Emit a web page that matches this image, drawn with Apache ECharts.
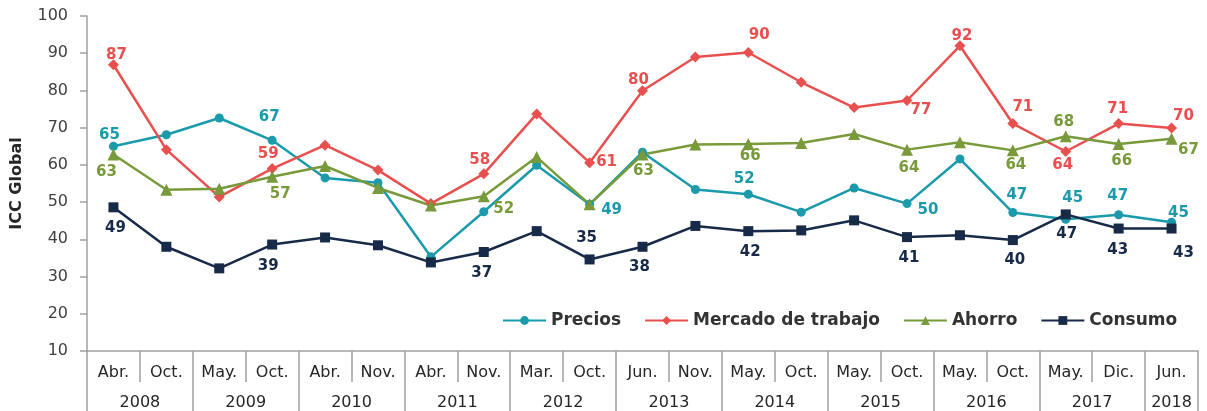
<!DOCTYPE html>
<html>
<head>
<meta charset="utf-8">
<script src="https://cdn.jsdelivr.net/npm/echarts@6/dist/echarts.min.js"></script>
<style>
  html, body { margin: 0; padding: 0; background: #fff; }
  #chart { width: 1207px; height: 411px; }
</style>
</head>
<body>
<div id="chart"></div>
<script>
// categorias
const months = ["Abr.", "Oct.", "May.", "Oct.", "Abr.", "Nov.", "Abr.", "Nov.", "Mar.", "Oct.", "Jun.",
  "Nov.", "May.", "Oct.", "May.", "Oct.", "May.", "Oct.", "May.", "Dic.", "Jun."];
const years = ["2008", "2009", "2010", "2011", "2012", "2013", "2014", "2015", "2016", "2017", "2018"];
const yearSpans = [2, 2, 2, 2, 2, 2, 2, 2, 2, 2, 1];
const yTicks = [10, 20, 30, 40, 50, 60, 70, 80, 90, 100];

// series
const precios = [65.0, 68.1, 72.6, 66.6, 56.5, 55.2, 35.3, 47.4, 59.9, 49.4, 63.4,
  53.4, 52.1, 47.3, 53.8, 49.6, 61.6, 47.2, 45.4, 46.6, 44.6];
const mercado = [86.9, 64.1, 51.4, 59.0, 65.3, 58.6, 49.6, 57.6, 73.7, 60.6, 79.9,
  89.0, 90.2, 82.2, 75.4, 77.3, 92.0, 71.1, 63.6, 71.1, 69.9];
const ahorro = [62.8, 53.3, 53.6, 56.8, 59.7, 53.8, 49.1, 51.6, 62.1, 49.4, 62.8,
  65.5, 65.6, 65.9, 68.3, 64.1, 66.1, 63.9, 67.7, 65.6, 67.0];
const consumo = [48.6, 38.0, 32.2, 38.6, 40.5, 38.4, 33.8, 36.6, 42.2, 34.6, 38.0,
  43.6, 42.2, 42.4, 45.1, 40.6, 41.1, 39.8, 46.7, 42.9, 42.9];

// etiquetas visibles: indice -> desplazamiento [dx, dy] respecto al punto
const preciosLbl = { 0: [-4, -11], 3: [-3, -23], 9: [22, 6], 12: [-4, -15], 15: [21, 7],
  17: [4, -17], 18: [7, -21], 19: [-1, -19], 20: [7, -9] };
const mercadoLbl = { 0: [3, -10], 3: [-4, -15], 7: [-4, -14], 9: [17, -1], 10: [-4, -11],
  12: [11, -17], 15: [14, 10], 16: [2, -10], 17: [10, -16], 18: [-3, 14], 19: [-1, -14], 20: [12, -12] };
const ahorroLbl = { 0: [-7, 18], 3: [8, 17], 7: [20, 13], 10: [1, 17], 12: [2, 12],
  15: [2, 18], 17: [3, 15], 18: [-2, -14], 19: [3, 17], 20: [17, 11] };
const consumoLbl = { 0: [2, 21], 3: [-4, 22], 7: [-2, 21], 9: [-3, -21], 10: [-3, 20],
  12: [2, 21], 15: [2, 21], 17: [2, 20], 18: [1, 20], 19: [-1, 22], 20: [12, 25] };

const FONT = "DejaVu Sans";
const AXIS_GRAY = "#a0a0a0";

function buildData(values, lbl, color) {
  return values.map((v, i) => {
    if (!lbl[i]) return v;
    return {
      value: v,
      label: {
        show: true,
        position: "inside",
        offset: lbl[i],
        formatter: (p) => Math.round(p.value),
        color: color,
        fontFamily: FONT,
        fontWeight: "bold",
        fontSize: 15,
      },
    };
  });
}

// eje de años: 43 posiciones de media categoria
const yearSlots = [];
const yearLabelAt = {};
const yearBoundary = { 0: true };
let pos = 0;
years.forEach((y, i) => {
  yearLabelAt[2 * pos + yearSpans[i]] = y;
  pos += yearSpans[i];
  yearBoundary[2 * pos] = true;
});
for (let i = 0; i <= 2 * pos; i++) yearSlots.push(String(i));

const chart = echarts.init(document.getElementById("chart"));

const series = [
  { name: "Precios", data: precios, lbl: preciosLbl, color: "#1a9aab", symbol: "circle", size: 9 },
  { name: "Mercado de trabajo", data: mercado, lbl: mercadoLbl, color: "#e8504f", symbol: "diamond", size: 11 },
  { name: "Ahorro", data: ahorro, lbl: ahorroLbl, color: "#789a3a", symbol: "triangle", size: 12 },
  { name: "Consumo", data: consumo, lbl: consumoLbl, color: "#172a48", symbol: "rect", size: 10 },
];

const option = {
  animation: false,
  grid: { left: 87, right: 9, top: 16, bottom: 59, containLabel: false },
  legend: {
    left: 497,
    top: 307,
    itemWidth: 43,
    itemHeight: 11,
    itemGap: 23,
    textStyle: { fontFamily: FONT, fontWeight: "bold", fontSize: 17, color: "#333" },
    data: series.map((s) => s.name),
  },
  xAxis: [
    {
      type: "category",
      data: months,
      boundaryGap: true,
      axisLine: { show: true, lineStyle: { color: AXIS_GRAY, width: 1.5 } },
      axisTick: { show: true, interval: 0, length: 31, lineStyle: { color: AXIS_GRAY, width: 1.5 } },
      axisLabel: { interval: 0, margin: 14, fontFamily: FONT, fontSize: 16, color: "#262626" },
    },
    {
      type: "category",
      data: yearSlots,
      boundaryGap: false,
      position: "bottom",
      axisLine: { show: false },
      axisTick: {
        show: true,
        interval: (i) => !!yearBoundary[i],
        length: 62,
        lineStyle: { color: AXIS_GRAY, width: 1.5 },
      },
      axisLabel: {
        interval: 0,
        margin: 44,
        formatter: (v) => yearLabelAt[v] || "",
        fontFamily: FONT,
        fontSize: 16,
        color: "#262626",
      },
    },
  ],
  yAxis: {
    type: "value",
    min: yTicks[0],
    max: yTicks[yTicks.length - 1],
    interval: 10,
    name: "ICC Global",
    nameLocation: "middle",
    nameGap: 62,
    nameTextStyle: { fontFamily: FONT, fontWeight: "bold", fontSize: 16, color: "#262626" },
    axisLine: { show: true, lineStyle: { color: AXIS_GRAY, width: 1.5 } },
    axisTick: { show: true, length: 7, lineStyle: { color: AXIS_GRAY, width: 1.5 } },
    splitLine: { show: false },
    axisLabel: { margin: 19, fontFamily: FONT, fontSize: 16, color: "#404040" },
  },
  series: series.map((s) => ({
    name: s.name,
    type: "line",
    xAxisIndex: 0,
    data: buildData(s.data, s.lbl, s.color),
    symbol: s.symbol,
    symbolSize: s.size,
    showAllSymbol: true,
    color: s.color,
    lineStyle: { width: 2.5, color: s.color },
    itemStyle: { color: s.color },
    label: { show: false },
  })),
};

chart.setOption(option);
</script>
</body>
</html>
